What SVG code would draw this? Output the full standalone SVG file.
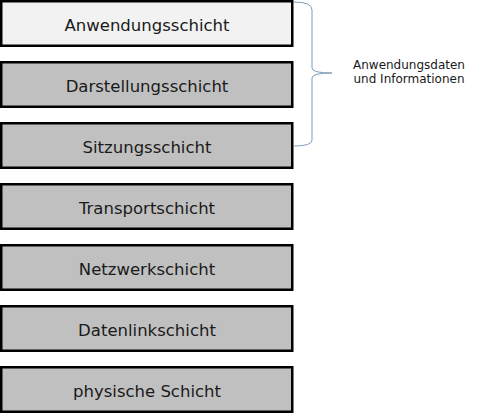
<svg xmlns="http://www.w3.org/2000/svg" width="488" height="413" viewBox="0 0 488 413">
<style>
.box{stroke:#000;stroke-width:2.5}
.l{fill:#c0c0c0}
.t{font-family:"DejaVu Sans",Verdana,sans-serif;font-size:16.5px;fill:#1a1a1a;text-anchor:middle}
.s{font-family:"DejaVu Sans",Verdana,sans-serif;font-size:12px;fill:#1a1a1a;text-anchor:middle}
</style>
<rect width="488" height="413" fill="#fff"/>
<g id="n1"><rect class="box" x="1.25" y="1.25" width="291" height="44.5" fill="#f2f2f2"/><text class="t" x="147" y="31">Anwendungsschicht</text></g>
<g id="n2"><rect class="box l" x="1.25" y="62.25" width="291" height="44.5"/><text class="t" x="147" y="92">Darstellungsschicht</text></g>
<g id="n3"><rect class="box l" x="1.25" y="123.25" width="291" height="44.5"/><text class="t" x="147" y="153">Sitzungsschicht</text></g>
<g id="n4"><rect class="box l" x="1.25" y="184.25" width="291" height="44.5"/><text class="t" x="147" y="214">Transportschicht</text></g>
<g id="n5"><rect class="box l" x="1.25" y="245.25" width="291" height="44.5"/><text class="t" x="147" y="275">Netzwerkschicht</text></g>
<g id="n6"><rect class="box l" x="1.25" y="306.25" width="291" height="44.5"/><text class="t" x="147" y="336">Datenlinkschicht</text></g>
<g id="n7"><rect class="box l" x="1.25" y="367.25" width="291" height="44.5"/><text class="t" x="147" y="397">physische Schicht</text></g>
<g id="connectors"><path d="M294 2 Q312 2 312 10 L312 68 Q312 73 332 73 Q312 73 312 78 L312 140 Q312 146 294 146" fill="none" stroke="#7f9db9" stroke-width="1"/></g>
<g id="label"><text class="s" x="409" y="69">Anwendungsdaten</text><text class="s" x="409" y="83">und Informationen</text></g>
</svg>
